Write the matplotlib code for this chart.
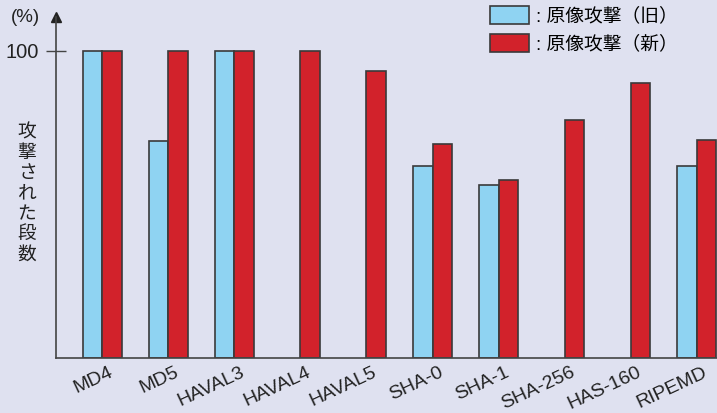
import matplotlib.pyplot as plt
import numpy as np

plt.rcParams['font.family'] = ['Liberation Sans', 'Noto Sans CJK JP']

# hash functions and share of attacked rounds (%)
names = ["MD4", "MD5", "HAVAL3", "HAVAL4", "HAVAL5",
         "SHA-0", "SHA-1", "SHA-256", "HAS-160", "RIPEMD"]
old_attack = [100, 70.8, 100, None, None, 62.5, 56.4, None, None, 62.6]
new_attack = [100, 100, 100, 100, 93.5, 69.7, 57.9, 77.6, 89.5, 70.9]

bg = "#dfe1f0"
blue = "#8fd3f2"
red = "#d2222b"
edge = "#3a3a3a"

fig = plt.figure(figsize=(7.17, 4.13), dpi=100, facecolor=bg)
ax = fig.add_axes([56 / 717, 55 / 413, 661 / 717, 341 / 413])
ax.set_facecolor(bg)

x = np.arange(len(names))
w = 0.295
ox = [i for i, v in enumerate(old_attack) if v is not None]
ov = [v for v in old_attack if v is not None]
b1 = ax.bar(x[ox] - w / 2, ov, w, color=blue, edgecolor=edge, linewidth=1.2,
            label=": 原像攻撃（旧）")
b2 = ax.bar(x + w / 2, new_attack, w, color=red, edgecolor=edge, linewidth=1.2,
            label=": 原像攻撃（新）")

ax.set_xlim(-0.696, 9.304)
ax.set_ylim(0, 111.07)

for s in ["top", "right"]:
    ax.spines[s].set_visible(False)
for s in ["left", "bottom"]:
    ax.spines[s].set_color("#444444")
    ax.spines[s].set_linewidth(1.2)

# arrow head on the y axis
ax.plot([0], [1], marker="^", markersize=6.5, color="#222222",
        transform=ax.transAxes, clip_on=False)

ax.set_yticks([100])
ax.tick_params(axis="y", direction="inout", length=14, width=1,
               color="#444444", labelsize=14.5, pad=5, labelcolor="#222222")
ax.set_xticks([])

for i, n in enumerate(names):
    ax.text(i + 0.09, -0.018, n, transform=ax.get_xaxis_transform(),
            rotation=25, ha="right", va="top", rotation_mode="anchor",
            fontsize=14, color="#222222")

fig.text(25 / 717, 1 - 18 / 413, "(%)", ha="center", va="center",
         fontsize=13.5, color="#222222")
fig.text(27 / 717, 1 - 194 / 413, "\n".join("攻撃された段数"),
         ha="center", va="center", fontsize=13.5, linespacing=1.25,
         color="#222222")

ax.legend(handles=[b1, b2], loc="upper left",
          bbox_to_anchor=(490 / 717, 1 - 6 / 413),
          bbox_transform=fig.transFigure, frameon=False, fontsize=13.5,
          borderpad=0, borderaxespad=0, handlelength=2.1, handleheight=1.1,
          handletextpad=0.35, labelspacing=0.45)

fig.savefig("out.png", dpi=100, facecolor=bg)
